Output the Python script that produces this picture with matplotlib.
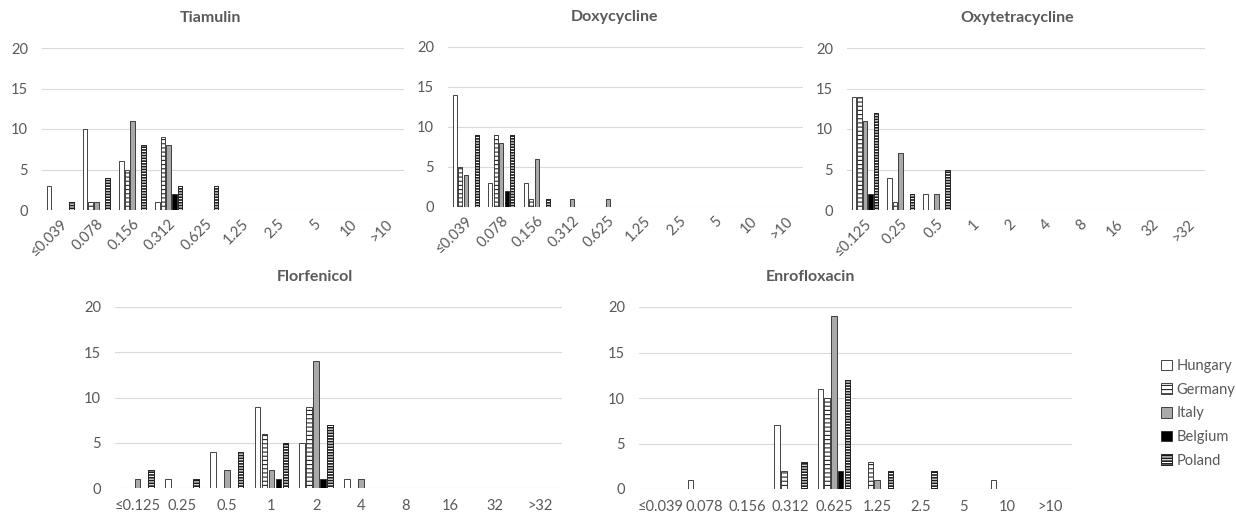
import numpy as np
import matplotlib
matplotlib.use("Agg")
import matplotlib.pyplot as plt
from matplotlib.patches import Patch

plt.rcParams['font.family'] = ['Lato', 'DejaVu Sans']
plt.rcParams['hatch.linewidth'] = 0.8

countries = ["Hungary", "Germany", "Italy", "Belgium", "Poland"]

cats_a = ["≤0.039", "0.078", "0.156", "0.312", "0.625", "1.25", "2.5", "5", "10", ">10"]
cats_b = ["≤0.125", "0.25", "0.5", "1", "2", "4", "8", "16", "32", ">32"]

# counts per country, one list per MIC category
tiamulin = {
    "Hungary": [3, 10, 6, 1, 0, 0, 0, 0, 0, 0],
    "Germany": [0, 1, 5, 9, 0, 0, 0, 0, 0, 0],
    "Italy":   [0, 1, 11, 8, 0, 0, 0, 0, 0, 0],
    "Belgium": [0, 0, 0, 2, 0, 0, 0, 0, 0, 0],
    "Poland":  [1, 4, 8, 3, 3, 0, 0, 0, 0, 0],
}
doxycycline = {
    "Hungary": [14, 3, 3, 0, 0, 0, 0, 0, 0, 0],
    "Germany": [5, 9, 1, 0, 0, 0, 0, 0, 0, 0],
    "Italy":   [4, 8, 6, 1, 1, 0, 0, 0, 0, 0],
    "Belgium": [0, 2, 0, 0, 0, 0, 0, 0, 0, 0],
    "Poland":  [9, 9, 1, 0, 0, 0, 0, 0, 0, 0],
}
oxytetracycline = {
    "Hungary": [14, 4, 2, 0, 0, 0, 0, 0, 0, 0],
    "Germany": [14, 1, 0, 0, 0, 0, 0, 0, 0, 0],
    "Italy":   [11, 7, 2, 0, 0, 0, 0, 0, 0, 0],
    "Belgium": [2, 0, 0, 0, 0, 0, 0, 0, 0, 0],
    "Poland":  [12, 2, 5, 0, 0, 0, 0, 0, 0, 0],
}
florfenicol = {
    "Hungary": [0, 1, 4, 9, 5, 1, 0, 0, 0, 0],
    "Germany": [0, 0, 0, 6, 9, 0, 0, 0, 0, 0],
    "Italy":   [1, 0, 2, 2, 14, 1, 0, 0, 0, 0],
    "Belgium": [0, 0, 0, 1, 1, 0, 0, 0, 0, 0],
    "Poland":  [2, 1, 4, 5, 7, 0, 0, 0, 0, 0],
}
enrofloxacin = {
    "Hungary": [0, 1, 0, 7, 11, 0, 0, 0, 1, 0],
    "Germany": [0, 0, 0, 2, 10, 3, 0, 0, 0, 0],
    "Italy":   [0, 0, 0, 0, 19, 1, 0, 0, 0, 0],
    "Belgium": [0, 0, 0, 0, 2, 0, 0, 0, 0, 0],
    "Poland":  [0, 0, 0, 3, 12, 2, 2, 0, 0, 0],
}

# Poland: black base, white stripes, then outline on top
styles = {
    "Hungary": dict(facecolor="white", hatch=None),
    "Germany": dict(facecolor="white", hatch="----"),
    "Italy":   dict(facecolor="#a9a9a9", hatch=None),
    "Belgium": dict(facecolor="black", hatch=None),
    "Poland":  dict(facecolor="#1a1a1a", hatch=None),
}
edge = "#262626"
stripe_hatch = "------"

W, H = 1236, 517
fig = plt.figure(figsize=(W / 100, H / 100), dpi=100)
txt = "#595959"


def ax_px(x0, x1, ytop, ybot):
    return fig.add_axes([x0 / W, 1 - ybot / H, (x1 - x0) / W, (ybot - ytop) / H])


def panel(ax, data, cats, title, tx, ty, rotate):
    x = np.arange(len(cats))
    step = 0.155
    bw = 0.125
    for i, c in enumerate(countries):
        st = styles[c]
        pos = x + (i - 2) * step
        ax.bar(pos, data[c], width=bw, facecolor=st["facecolor"],
               hatch=st["hatch"], edgecolor=edge, linewidth=0.6, zorder=3)
        if c == "Poland":
            ax.bar(pos, data[c], width=bw, facecolor="none", hatch=stripe_hatch,
                   edgecolor="white", linewidth=0, zorder=4)
            ax.bar(pos, data[c], width=bw, facecolor="none",
                   edgecolor=edge, linewidth=0.7, zorder=5)
    ax.set_xlim(-0.5, len(cats) - 0.5)
    ax.set_ylim(0, 20)
    ax.set_yticks([0, 5, 10, 15, 20])
    ax.grid(axis="y", color="#d9d9d9", linewidth=0.8, zorder=0)
    for s in ax.spines.values():
        s.set_visible(False)
    ax.set_xticks(x)
    if rotate:
        ax.set_xticklabels(cats, rotation=45, ha="right", rotation_mode="anchor")
        ax.tick_params(axis="x", length=0, pad=5, labelsize=10.5, labelcolor=txt)
    else:
        ax.set_xticklabels(cats)
        ax.tick_params(axis="x", length=0, pad=8, labelsize=10.5, labelcolor=txt)
    ax.tick_params(axis="y", length=0, pad=10, labelsize=10.5, labelcolor=txt)
    fig.text(tx / W, 1 - ty / H, title, ha="center", va="center",
             fontsize=11.5, fontweight="bold", color=txt)


panel(ax_px(42, 404, 48, 210), tiamulin, cats_a, "Tiamulin", 210, 18, True)
panel(ax_px(448, 803, 47, 207), doxycycline, cats_a, "Doxycycline", 615, 17, True)
panel(ax_px(847, 1205, 48, 210), oxytetracycline, cats_b, "Oxytetracycline", 1017, 18, True)
panel(ax_px(115, 562, 307, 488), florfenicol, cats_b, "Florfenicol", 315, 277, False)
panel(ax_px(639, 1072, 307, 489), enrofloxacin, cats_a, "Enrofloxacin", 810, 277, False)

handles = []
for c in countries:
    base = Patch(facecolor=styles[c]["facecolor"], hatch=styles[c]["hatch"],
                 edgecolor=edge, linewidth=0.6)
    if c == "Poland":
        stripes = Patch(facecolor="none", hatch=stripe_hatch, edgecolor="white", linewidth=0)
        outline = Patch(facecolor="none", edgecolor=edge, linewidth=0.7)
        handles.append((base, stripes, outline))
    else:
        handles.append(base)

leg = fig.legend(handles=handles, labels=countries, loc="upper left",
                 bbox_to_anchor=(1148 / W, 1 - 346 / H), frameon=False,
                 handlelength=0.75, handleheight=0.75, handletextpad=0.3,
                 labelspacing=0.66, fontsize=10.5)
for t in leg.get_texts():
    t.set_color(txt)

fig.savefig("out.png", dpi=100)
